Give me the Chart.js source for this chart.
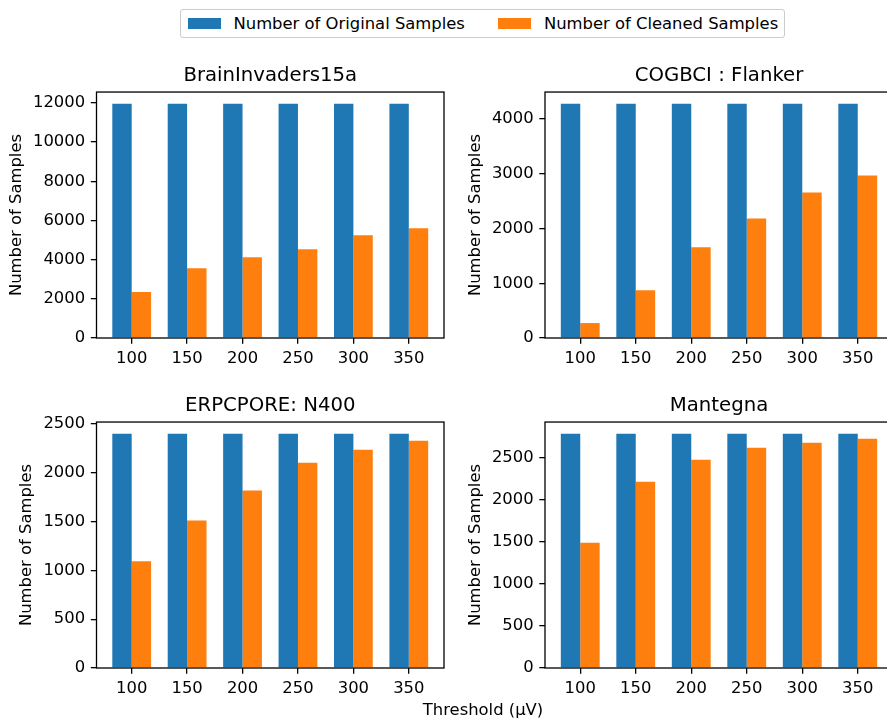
<!DOCTYPE html>
<html>
<head>
<meta charset="utf-8">
<script src="https://cdn.jsdelivr.net/npm/chart.js@4.4.1/dist/chart.umd.min.js"></script>
<style>
  html, body { margin: 0; padding: 0; background: #fff; overflow: hidden; }
  body { width: 887px; height: 722px; position: relative; font-family: "DejaVu Sans", sans-serif; }
  canvas { position: absolute; }
  #legend {
    position: absolute; left: 180px; top: 9px; height: 27px; padding-right: 6px;
    border: 1px solid #cccccc; border-radius: 3px; display: flex; align-items: center;
    font-size: 16.4px; color: #000; white-space: nowrap;
  }
  #legend .patch { width: 33px; height: 11px; margin-right: 13px; }
  #xlabel { position: absolute; left: 383px; width: 200px; top: 700px; text-align: center; font-size: 16.4px; color: #000; }
</style>
</head>
<body>
<div id="legend">
  <span class="patch" style="background:#1f77b4;margin-left:6.5px"></span><span>Number of Original Samples</span>
  <span class="patch" style="background:#ff7f0e;margin-left:33px"></span><span>Number of Cleaned Samples</span>
</div>
<canvas id="c1"></canvas>
<canvas id="c2"></canvas>
<canvas id="c3"></canvas>
<canvas id="c4"></canvas>
<div id="xlabel">Threshold (µV)</div>
<script>
// thresholds in microvolts
var thresholds = [100, 150, 200, 250, 300, 350];

var brainOriginal = [11960, 11960, 11960, 11960, 11960, 11960];
var brainCleaned  = [2343, 3565, 4125, 4533, 5246, 5603];

var flankerOriginal = [4279, 4279, 4279, 4279, 4279, 4279];
var flankerCleaned  = [273, 874, 1657, 2185, 2659, 2968];

var n400Original = [2398, 2398, 2398, 2398, 2398, 2398];
var n400Cleaned  = [1092, 1510, 1816, 2102, 2235, 2327];

var mantegnaOriginal = [2790, 2790, 2790, 2790, 2790, 2790];
var mantegnaCleaned  = [1492, 2218, 2480, 2623, 2683, 2730];

Chart.defaults.color = '#000';
Chart.defaults.font.family = '"DejaVu Sans", sans-serif';
Chart.defaults.font.size = 16.4;

// box round the axes, like matplotlib spines
var framePlugin = {
  id: 'frame',
  afterDraw: function(chart) {
    var a = chart.chartArea, ctx = chart.ctx;
    ctx.save();
    ctx.strokeStyle = '#000';
    ctx.lineWidth = 1.3;
    ctx.strokeRect(a.left, a.top, a.right - a.left, a.bottom - a.top);
    ctx.restore();
  }
};

function makePanel(id, title, original, cleaned, step, area) {
  var yw = area.yw, th = 28, xh = 38, padR = 12;
  var cv = document.getElementById(id);
  cv.width = (area.r - area.l) + yw + padR;
  cv.height = (area.b - area.t) + th + xh;
  cv.style.left = (area.l - yw) + 'px';
  cv.style.top = (area.t - th) + 'px';

  var pts = function(arr) { return arr.map(function(v, i) { return {x: i, y: v}; }); };
  var lo = -0.35, hi = thresholds.length - 1 + 0.35, m = (hi - lo) * 0.05;
  var ymax = Math.max.apply(null, original.concat(cleaned)) * 1.05;

  new Chart(cv, {
    type: 'bar',
    data: {
      datasets: [{
        label: 'Number of Original Samples',
        data: pts(original),
        backgroundColor: '#1f77b4',
        categoryPercentage: 0.7,
        barPercentage: 1.0
      }, {
        label: 'Number of Cleaned Samples',
        data: pts(cleaned),
        backgroundColor: '#ff7f0e',
        categoryPercentage: 0.7,
        barPercentage: 1.0
      }]
    },
    options: {
      responsive: false,
      animation: false,
      layout: { padding: { left: 0, right: padR, top: 0, bottom: 0 } },
      plugins: {
        legend: { display: false },
        tooltip: { enabled: false },
        title: {
          display: true, text: title, fullSize: false,
          font: { size: 19.7, weight: 'normal', lineHeight: 1.2 },
          padding: { top: 0, bottom: 4.4 }
        }
      },
      scales: {
        x: {
          type: 'linear',
          min: lo - m, max: hi + m,
          offset: false,
          grid: { display: true, offset: false, drawOnChartArea: false, drawTicks: true, tickLength: 5.7, color: '#000', lineWidth: 1.3 },
          border: { display: false },
          ticks: {
            padding: 5.7,
            callback: function(v) { return thresholds[v]; }
          },
          afterBuildTicks: function(axis) {
            axis.ticks = thresholds.map(function(t, i) { return {value: i}; });
          },
          afterFit: function(axis) { axis.height = xh; }
        },
        y: {
          min: 0, max: ymax,
          grid: { display: true, drawOnChartArea: false, drawTicks: true, tickLength: 5.7, color: '#000', lineWidth: 1.3 },
          border: { display: false },
          ticks: { padding: 5.7, callback: function(v) { return String(v); } },
          title: { display: true, text: 'Number of Samples', font: { size: 16.4, lineHeight: 1.2 }, padding: { top: area.tp, bottom: 0 } },
          afterBuildTicks: function(axis) {
            var t = [];
            for (var v = 0; v <= ymax; v += step) t.push({value: v});
            axis.ticks = t;
          },
          afterFit: function(axis) { axis.width = yw; }
        }
      }
    },
    plugins: [framePlugin]
  });
}

makePanel('c1', 'BrainInvaders15a', brainOriginal, brainCleaned, 2000, {l: 96.5, r: 444.5, t: 92, b: 338, yw: 96.5, tp: 7.2});
makePanel('c2', 'COGBCI : Flanker', flankerOriginal, flankerCleaned, 1000, {l: 545.4, r: 893.6, t: 92, b: 338, yw: 85, tp: 5.8});
makePanel('c3', 'ERPCPORE: N400', n400Original, n400Cleaned, 500, {l: 96.5, r: 444.5, t: 422, b: 668, yw: 96.5, tp: 16.7});
makePanel('c4', 'Mantegna', mantegnaOriginal, mantegnaCleaned, 500, {l: 545.4, r: 893.6, t: 422, b: 668, yw: 85, tp: 5.8});
</script>
</body>
</html>
